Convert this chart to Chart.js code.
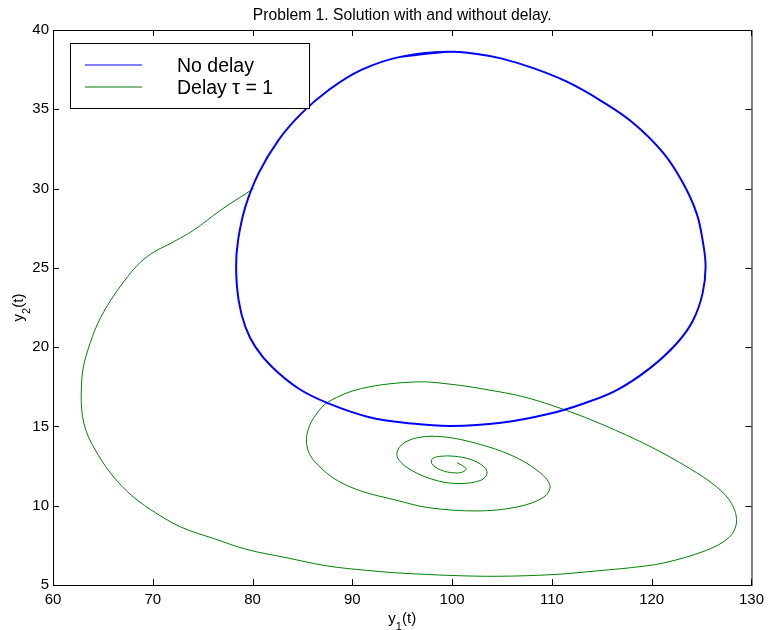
<!DOCTYPE html>
<html>
<head>
<meta charset="utf-8">
<script src="https://cdn.jsdelivr.net/npm/chart.js@4.4.1/dist/chart.umd.min.js"></script>
<style>
  html, body { margin: 0; padding: 0; background: #fff; }
</style>
</head>
<body>
<canvas id="phaseChart" width="770" height="630"></canvas>
<script>
// ticks
const xTickValues = [60, 70, 80, 90, 100, 110, 120, 130];
const yTickValues = [5, 10, 15, 20, 25, 30, 35, 40];

const seriesLabels = ["No delay", "Delay \u03c4 = 1"];
const seriesColors = ["#0000ff", "#008000"];

// no delay: closed orbit (y1, y2), last point = first point
const noDelayY1 = [99.88, 102.5, 104.9, 108.2, 111.5, 114.8, 118.2, 121.2, 123.15, 124.5, 125.1, 125.4,
  125.1, 124.15, 122.5, 119.8, 116.5, 113.2, 109.85, 104.9, 99.88, 95.9, 91.6, 87.6, 84.6, 81.93,
  80.28, 79.28, 78.6, 78.35, 78.55, 79.28, 80.6, 82.6, 84.9, 87.6, 90.9, 94.9, 99.88];
const noDelayY2 = [38.63, 38.49, 38.21, 37.58, 36.74, 35.58, 34.11, 32.22, 30.33, 28.44, 26.75, 25.07,
  23.39, 21.7, 20.23, 18.66, 17.29, 16.45, 15.82, 15.23, 15.03, 15.19, 15.6, 16.45, 17.39, 18.76,
  20.02, 21.28, 22.97, 25.07, 26.75, 28.85, 30.96, 33.06, 34.74, 36.2, 37.48, 38.32, 38.63];

// delay tau = 1: spiral (y1, y2) in time order
const delayY1 = [80.1, 76.8, 74.1, 71.47, 70.14, 68.8, 67.48, 65.8, 64.49, 63.49, 62.99, 62.83, 62.88,
  63.1, 63.55, 64.25, 65.55, 67.48, 69.8, 72.8, 76.1, 79.44, 83.4, 87.5, 91.5, 94.6, 100.0, 104.5,
  110.2, 114.5, 118.0, 121.2, 125.5, 127.8, 128.5, 128.0, 126.5, 123.8, 119.8, 115.2, 111.5, 107.2,
  103.2, 100.0, 96.4, 90.9, 87.6, 86.3, 85.6, 85.4, 85.8, 86.9, 88.6, 91.0, 94.4, 97.6, 102.5, 106.5,
  109.2, 109.8, 108.5, 105.9, 102.5, 99.2, 96.6, 94.9, 94.5, 95.9, 98.6, 100.9, 102.9, 103.5, 103.2,
  101.9, 100.2, 98.9, 98.05, 97.96, 98.9, 100.2, 101.05, 101.4, 100.5];
const delayY2 = [30.0, 28.64, 27.38, 26.44, 26.01, 25.38, 24.44, 22.97, 21.5, 19.81, 18.55, 17.08, 16.03,
  15.19, 14.34, 13.5, 12.24, 10.87, 9.75, 8.66, 7.93, 7.24, 6.72, 6.2, 5.92, 5.76, 5.6, 5.55,
  5.66, 5.89, 6.1, 6.39, 7.19, 8.03, 8.98, 10.14, 11.19, 12.35, 13.75, 15.08, 16.0, 16.86,
  17.35, 17.65, 17.81, 17.39, 16.55, 15.7, 14.85, 14.0, 13.15, 12.35, 11.55, 10.9, 10.35, 9.88, 9.67, 9.92,
  10.55, 11.29, 12.24, 13.19, 13.92, 14.34, 14.3, 13.82, 13.08, 12.24, 11.56, 11.4, 11.61, 12.03, 12.45,
  12.91, 13.12, 13.12, 12.98, 12.66, 12.24, 12.07, 12.13, 12.35, 12.71];

const FONT = "'Liberation Sans', Arial, Helvetica, sans-serif";

function toPoints(xs, ys) {
  return xs.map((v, i) => ({ x: v, y: ys[i] }));
}

// closed loop: add one point on each side so the spline has no corner where it closes
function closeLoop(pts) {
  return [pts[pts.length - 2], ...pts, pts[1]];
}

// label like y_1(t) with a lowered smaller digit
function drawSubLabel(ctx, base, sub, tail, cx, baseline) {
  ctx.font = "15px " + FONT;
  const w1 = ctx.measureText(base).width;
  const w3 = ctx.measureText(tail).width;
  ctx.font = "11px " + FONT;
  const w2 = ctx.measureText(sub).width;
  let x = cx - (w1 + w2 + w3) / 2;
  ctx.textAlign = "left";
  ctx.textBaseline = "alphabetic";
  ctx.font = "15px " + FONT;
  ctx.fillText(base, x, baseline);
  x += w1;
  ctx.font = "11px " + FONT;
  ctx.fillText(sub, x, baseline + 7);
  x += w2;
  ctx.font = "15px " + FONT;
  ctx.fillText(tail, x, baseline);
}

const matlabAxes = {
  id: "matlabAxes",
  afterDatasetsDraw(chart) {
    const { ctx, chartArea: a, scales } = chart;
    ctx.save();
    ctx.strokeStyle = "#000";
    ctx.lineWidth = 1;
    // box
    ctx.strokeRect(a.left + 0.5, a.top + 0.5, a.right - a.left, a.bottom - a.top);
    // inward ticks on all four sides
    ctx.beginPath();
    xTickValues.forEach(v => {
      const px = Math.round(scales.x.getPixelForValue(v)) + 0.5;
      ctx.moveTo(px, a.bottom); ctx.lineTo(px, a.bottom - 6);
      ctx.moveTo(px, a.top); ctx.lineTo(px, a.top + 6);
    });
    yTickValues.forEach(v => {
      const py = Math.round(scales.y.getPixelForValue(v)) + 0.5;
      ctx.moveTo(a.left, py); ctx.lineTo(a.left + 6, py);
      ctx.moveTo(a.right, py); ctx.lineTo(a.right - 6, py);
    });
    ctx.stroke();

    // title, centred over the axes
    ctx.fillStyle = "#000";
    ctx.font = "15.7px " + FONT;
    ctx.textAlign = "center";
    ctx.textBaseline = "alphabetic";
    ctx.fillText("Problem 1. Solution with and without delay.", (a.left + a.right) / 2, 20);

    // axis labels
    drawSubLabel(ctx, "y", "1", "(t)", (a.left + a.right) / 2, 623);
    ctx.save();
    ctx.translate(23, (a.top + a.bottom) / 2);
    ctx.rotate(-Math.PI / 2);
    drawSubLabel(ctx, "y", "2", "(t)", 0, 0);
    ctx.restore();

    // legend box
    const lx = 70, ly = 43, lw = 239, lh = 65;
    ctx.fillStyle = "#fff";
    ctx.fillRect(lx, ly, lw, lh);
    ctx.strokeStyle = "#000";
    ctx.strokeRect(lx + 0.5, ly + 0.5, lw, lh);
    const rows = [65, 87];
    seriesLabels.forEach((label, i) => {
      // sample line sits between pixel rows, so it comes out soft like the original
      ctx.strokeStyle = seriesColors[i];
      ctx.lineWidth = 1.2;
      ctx.beginPath();
      ctx.moveTo(85, rows[i]);
      ctx.lineTo(142, rows[i]);
      ctx.stroke();
      ctx.fillStyle = "#000";
      ctx.font = "19.5px " + FONT;
      ctx.textAlign = "left";
      ctx.textBaseline = "alphabetic";
      ctx.fillText(label, 177, rows[i] + 7);
    });
    ctx.restore();
  }
};

new Chart(document.getElementById("phaseChart"), {
  type: "scatter",
  data: {
    datasets: [
      {
        label: seriesLabels[0],
        data: closeLoop(toPoints(noDelayY1, noDelayY2)),
        showLine: true,
        borderColor: seriesColors[0],
        borderWidth: 2,
        pointRadius: 0,
        tension: 0.4
      },
      {
        label: seriesLabels[1],
        data: toPoints(delayY1, delayY2),
        showLine: true,
        borderColor: seriesColors[1],
        borderWidth: 1,
        pointRadius: 0,
        tension: 0.35
      }
    ]
  },
  options: {
    responsive: false,
    animation: false,
    devicePixelRatio: 1,
    layout: { padding: { left: 0, right: 15, top: 30, bottom: 0 } },
    plugins: {
      legend: { display: false },
      tooltip: { enabled: false },
      title: { display: false }
    },
    scales: {
      x: {
        type: "linear",
        min: 60,
        max: 130,
        afterBuildTicks(scale) { scale.ticks = xTickValues.map(v => ({ value: v })); },
        afterFit(scale) { scale.height = 45; },
        grid: { display: false, drawTicks: false },
        border: { display: false },
        ticks: { color: "#000", padding: 6, font: { family: FONT, size: 15 } }
      },
      y: {
        type: "linear",
        min: 5,
        max: 40,
        afterBuildTicks(scale) { scale.ticks = yTickValues.map(v => ({ value: v })); },
        afterFit(scale) { scale.width = 53; },
        grid: { display: false, drawTicks: false },
        border: { display: false },
        ticks: { color: "#000", padding: 4, font: { family: FONT, size: 15 } }
      }
    }
  },
  plugins: [matlabAxes]
});
</script>
</body>
</html>
